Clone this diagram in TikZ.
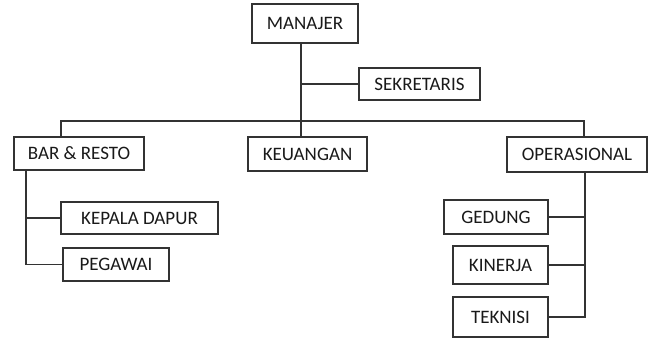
\documentclass[tikz,border=0pt]{standalone}
\usepackage{fontspec}
\setmainfont{Carlito}
\usepackage{tikz}

\begin{document}
\begin{tikzpicture}[x=1pt,y=-1pt,
    box/.style={draw=black!80,line width=1.2pt,inner sep=0pt,
      font=\fontsize{19}{21}\selectfont,text=black!90},
    link/.style={draw=black!80,line width=1.2pt}]
  \useasboundingbox (0,0) rectangle (650,339);
  % Top level
  \node[box,minimum width=106pt,minimum height=39pt] (manajer) at (305,23.5) {MANAJER};
  \node[box,minimum width=121pt,minimum height=32pt] (sekretaris) at (419.5,84) {SEKRETARIS};
  % Divisions
  \node[box,minimum width=130pt,minimum height=33pt] (bar) at (79,153.5) {BAR \& RESTO};
  \node[box,minimum width=119pt,minimum height=34pt] (keuangan) at (307.5,154) {KEUANGAN};
  \node[box,minimum width=140pt,minimum height=35pt] (operasional) at (577,154.5) {OPERASIONAL};
  % Under bar & resto
  \node[box,minimum width=157pt,minimum height=32pt] (kepala) at (139.5,218) {KEPALA DAPUR};
  \node[box,minimum width=106pt,minimum height=33pt] (pegawai) at (116,264.5) {PEGAWAI};
  % Under operasional
  \node[box,minimum width=104pt,minimum height=34pt] (gedung) at (496,217) {GEDUNG};
  \node[box,minimum width=95pt,minimum height=38pt] (kinerja) at (500.5,265) {KINERJA};
  \node[box,minimum width=95pt,minimum height=40pt] (teknisi) at (500.5,317) {TEKNISI};
  % Bus points
  \coordinate (bus) at (301,121);
  \coordinate (barleg) at (61,121);
  \coordinate (opleg) at (584,121);
  \coordinate (barstem) at (26,170);
  \coordinate (opstem) at (585,173);
  % Trunk and bus
  \draw[link] (bus |- manajer.south) -- (bus |- keuangan.north);
  \draw[link] (sekretaris.west) -- (sekretaris.west -| bus);
  \draw[link] (barleg |- bar.north) -- (barleg) -- (opleg) -- (opleg |- operasional.north);
  % Bar & resto branch
  \draw[link] (barstem |- bar.south) |- (pegawai.west);
  \draw[link] (kepala.west) -- (kepala.west -| barstem);
  % Operasional branch
  \draw[link] (opstem |- operasional.south) |- (teknisi.east);
  \draw[link] (gedung.east) -- (gedung.east -| opstem);
  \draw[link] (kinerja.east) -- (kinerja.east -| opstem);
\end{tikzpicture}
\end{document}
